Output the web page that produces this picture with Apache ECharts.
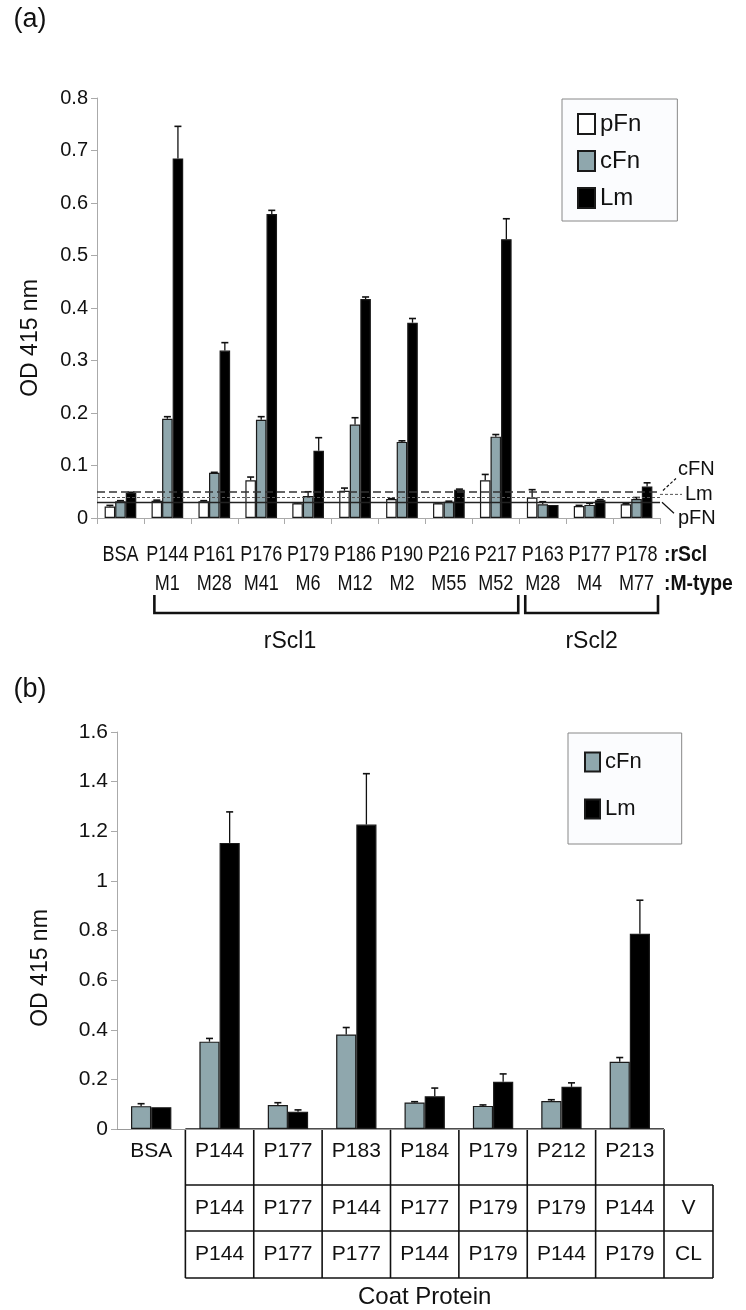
<!DOCTYPE html>
<html><head><meta charset="utf-8">
<script src="https://cdn.jsdelivr.net/npm/echarts@6/dist/echarts.min.js"></script>
<style>html,body{margin:0;padding:0;background:#fff}#c{width:746px;height:1310px}</style>
</head><body><div id="c"></div>
<script>
// ---------- Panel (a) data ----------
const categoriesA = ['BSA','P144','P161','P176','P179','P186','P190','P216','P217','P163','P177','P178'];
const mTypesA     = ['', 'M1','M28','M41','M6','M12','M2','M55','M52','M28','M4','M77'];
const pFnA    = [0.022,0.033,0.032,0.072,0.028,0.052,0.036,0.028,0.072,0.039,0.023,0.026];
const pFnAErr = [0.024,0.034,0.033,0.078,0.029,0.057,0.037,0.029,0.083,0.054,0.024,0.027];
const cFnA    = [0.032,0.189,0.086,0.187,0.042,0.178,0.145,0.031,0.155,0.026,0.025,0.036];
const cFnAErr = [0.033,0.193,0.087,0.193,0.050,0.191,0.147,0.032,0.159,0.031,0.028,0.039];
const LmA     = [0.048,0.685,0.319,0.579,0.128,0.417,0.372,0.054,0.531,0.025,0.034,0.060];
const LmAErr  = [0.049,0.746,0.334,0.586,0.153,0.421,0.380,0.055,0.570,0.025,0.035,0.067];
const thresholdNames  = ['cFN','Lm','pFN'];
const thresholdValues = [0.0525,0.045,0.032];
const groupNames = ['rScl1','rScl2'];
const groupFirst = [1, 9];
const groupLast  = [8, 11];
const yTicksA = {min:0, max:0.8, interval:0.1};

// ---------- Panel (b) data ----------
const categoriesB = ['BSA','P144','P177','P183','P184','P179','P212','P213'];
const vRowB  = ['', 'P144','P177','P144','P177','P179','P179','P144'];
const clRowB = ['', 'P144','P177','P177','P144','P179','P144','P179'];
const cFnB    = [0.092,0.352,0.097,0.381,0.107,0.093,0.113,0.271];
const cFnBErr = [0.102,0.365,0.106,0.409,0.110,0.097,0.118,0.288];
const LmB     = [0.088,1.153,0.070,1.227,0.132,0.190,0.170,0.787];
const LmBErr  = [0.089,1.278,0.077,1.432,0.165,0.222,0.186,0.922];
const yTicksB = {min:0, max:1.6, interval:0.2};

const REG = "'Liberation Sans',Arial,sans-serif";
const NARROW_SCALE = 0.82;
const C_P = '#ffffff', C_C = '#8fa7ad', C_L = '#000000';
const FRAC_A = 0.225, FRAC_B = 0.295;

function errSeries(xIdx, vals, tops, slot, n, frac) {
  return {
    type:'custom', xAxisIndex:xIdx, yAxisIndex:xIdx, silent:true, z:6,
    data: vals.map((v,i)=>[i, v, tops[i]]),
    renderItem(params, api){
      const i = api.value(0);
      const base = api.coord([i, api.value(1)]);
      const top = api.coord([i, api.value(2)]);
      const band = api.size([1,0])[0];
      const bw = band*frac;
      const x = base[0] + (slot-(n-1)/2)*bw;
      const cap = 3.5;
      if (Math.abs(top[1]-base[1]) < 0.5) return null;
      return {type:'group', children:[
        {type:'line', shape:{x1:x,y1:base[1],x2:x,y2:top[1]}, style:{stroke:'#111',lineWidth:1.3}},
        {type:'line', shape:{x1:x-cap,y1:top[1],x2:x+cap,y2:top[1]}, style:{stroke:'#111',lineWidth:1.6}}
      ]};
    }
  };
}
function barSeries(name, xIdx, data, color, frac, extra) {
  return Object.assign({
    type:'bar', name, xAxisIndex:xIdx, yAxisIndex:xIdx, data,
    barWidth:(frac*100)+'%', barGap:'0%',
    itemStyle:{color, borderColor:'#1a1a1a', borderWidth:1.2}
  }, extra||{});
}

const chart = echarts.init(document.getElementById('c'), null, {renderer:'canvas'});
const option = {
  animation:false,
  backgroundColor:'#fff',
  grid:[{left:97, top:98, width:563, height:420},{left:117, top:732, width:547, height:397}],
  xAxis:[
    {type:'category', gridIndex:0, data:categoriesA,
     axisLine:{lineStyle:{color:'#aaa',width:1}},
     axisTick:{show:true,length:6,lineStyle:{color:'#aaa'}},
     axisLabel:{show:false}},
    {type:'category', gridIndex:1, data:categoriesB,
     axisLine:{lineStyle:{color:'#999',width:1}},
     axisTick:{show:false},
     axisLabel:{interval:0, margin:12, fontFamily:REG, fontSize:21, color:'#111'}}
  ],
  yAxis:[
    {type:'value', gridIndex:0, min:yTicksA.min, max:yTicksA.max, interval:yTicksA.interval,
     axisLine:{show:true,lineStyle:{color:'#aaa'}}, axisTick:{show:true,length:6,lineStyle:{color:'#aaa'}},
     splitLine:{show:false}, axisLabel:{margin:9, fontFamily:REG, fontSize:20, color:'#111'}},
    {type:'value', gridIndex:1, min:yTicksB.min, max:yTicksB.max, interval:yTicksB.interval,
     axisLine:{show:true,lineStyle:{color:'#aaa'}}, axisTick:{show:true,length:6,lineStyle:{color:'#aaa'}},
     splitLine:{show:false}, axisLabel:{margin:9, fontFamily:REG, fontSize:21, color:'#111'}}
  ],
  legend:[
    {data:['pFn','cFn','Lm'], orient:'vertical', left:562, top:99, padding:[13,36,11,15], itemGap:13,
     itemWidth:17, itemHeight:20, icon:'rect', backgroundColor:'#fbfcfe', borderColor:'#888', borderWidth:1,
     textStyle:{fontFamily:REG, fontSize:24, color:'#111', lineHeight:20}, selectedMode:false},
    {data:['cFn','Lm'], orient:'vertical', left:568, top:733, padding:[18,40,24,16], itemGap:25,
     itemWidth:15, itemHeight:19, icon:'rect', backgroundColor:'#fbfcfe', borderColor:'#888', borderWidth:1,
     textStyle:{fontFamily:REG, fontSize:22, color:'#111', lineHeight:19}, selectedMode:false}
  ],
  series:[
    barSeries('pFn',0,pFnA,C_P,FRAC_A,{markLine:{symbol:'none', silent:true, label:{show:false}, z:7,
      data:[
        {yAxis:thresholdValues[0], lineStyle:{type:[8,4], color:'#333', width:1.6}},
        {yAxis:thresholdValues[1], lineStyle:{type:[3,2], color:'#555', width:1}},
        {yAxis:thresholdValues[2], lineStyle:{type:'solid', color:'#222', width:1.4}}
      ]}}),
    barSeries('cFn',0,cFnA,C_C,FRAC_A),
    barSeries('Lm',0,LmA,C_L,FRAC_A),
    errSeries(0,pFnA,pFnAErr,0,3,FRAC_A),
    errSeries(0,cFnA,cFnAErr,1,3,FRAC_A),
    errSeries(0,LmA,LmAErr,2,3,FRAC_A),
    barSeries('cFn',1,cFnB,C_C,FRAC_B),
    barSeries('Lm',1,LmB,C_L,FRAC_B),
    errSeries(1,cFnB,cFnBErr,0,2,FRAC_B),
    errSeries(1,LmB,LmBErr,1,2,FRAC_B)
  ]
};
chart.setOption(option);

// ---------- annotations positioned from the axes ----------
function px(idx, cat, val){ return chart.convertToPixel({xAxisIndex:idx, yAxisIndex:idx}, [cat, val]); }
const g = [];
const T = (x,y,text,o,sx)=>g.push({type:'text', x, y, scaleX:sx||1, style:Object.assign({text, fill:'#111', fontFamily:REG, fontSize:20, align:'center', verticalAlign:'middle'}, o||{})});
const L = (pts, o)=>g.push({type:'polyline', shape:{points:pts}, style:Object.assign({stroke:'#111', lineWidth:1.5, fill:null}, o||{})});

// Panel a
const a0 = px(0,0,0), a1 = px(0,1,0);
const bandA = a1[0]-a0[0];
const yA0 = a0[1];
const xEndA = px(0, categoriesA.length-1, 0)[0] + bandA/2;
T(30, 20, '(a)', {fontSize:27});
g.push({type:'text', x:31, y:338, rotation:Math.PI/2, style:{text:'OD 415 nm', fill:'#111', fontFamily:REG, fontSize:23, align:'center', verticalAlign:'middle'}});
categoriesA.forEach((c,i)=>{
  const cx = px(0,i,0)[0];
  T(cx, yA0+37, c, {fontSize:22}, NARROW_SCALE);
  if (mTypesA[i]) T(cx, yA0+66, mTypesA[i], {fontSize:22}, NARROW_SCALE);
});
T(xEndA+4, yA0+37, ':rScl', {fontWeight:'bold', align:'left', fontSize:22}, 0.88);
T(xEndA+4, yA0+66, ':M-type', {fontWeight:'bold', align:'left', fontSize:22}, 0.88);
// brackets
{
  const c1 = px(0,groupFirst[0],0)[0], e1 = px(0,groupLast[0],0)[0] + bandA/2 - 1;
  const c2 = px(0,groupFirst[1],0)[0] - bandA/2 + 6, e2 = px(0,groupLast[1],0)[0] + bandA/2 - 2;
  const s1 = c1 - 13;
  const yt = yA0+77, yb = yA0+95;
  L([[s1,yt],[s1,yb],[e1,yb],[e1,yt]], {lineWidth:2.6});
  L([[c2,yt],[c2,yb],[e2,yb],[e2,yt]], {lineWidth:2.6});
  T(290, yA0+124, groupNames[0], {fontSize:23});
  T((c2+e2)/2, yA0+124, groupNames[1], {fontSize:23});
}
// threshold labels
{
  const yc = px(0,0,thresholdValues[0])[1], yl = px(0,0,thresholdValues[1])[1], yp = px(0,0,thresholdValues[2])[1];
  L([[xEndA+3, yc],[xEndA+16, yc-12]], {lineWidth:1.2, lineDash:[3,2]});
  L([[xEndA, yl],[xEndA+22, yl]], {lineWidth:1, lineDash:[3,2], stroke:'#555'});
  L([[xEndA+2, yp+1],[xEndA+14, yp+12]], {lineWidth:1.2});
  T(xEndA+18, yc-21, thresholdNames[0], {align:'left'});
  T(xEndA+25, yl, thresholdNames[1], {align:'left'});
  T(xEndA+18, yp+17, thresholdNames[2], {align:'left'});
}

// Panel b
const b0 = px(1,0,0), b1 = px(1,1,0);
const bandB = b1[0]-b0[0];
const yB0 = b0[1];
T(30, 690, '(b)', {fontSize:27});
g.push({type:'text', x:41, y:968, rotation:Math.PI/2, style:{text:'OD 415 nm', fill:'#111', fontFamily:REG, fontSize:23, align:'center', verticalAlign:'middle'}});
{
  const n = categoriesB.length;
  const xs = []; for (let i=1;i<=n;i++) xs.push(px(1,i,0)[0]-bandB/2);
  const xl = xs[0], xr = xs[xs.length-1], xrr = xr + 49;
  const r1 = yB0+56, r2 = yB0+102, r3 = yB0+149;
  L([[xl,yB0],[xr,yB0]], {lineWidth:1.6});
  xs.forEach(x=>L([[x,yB0],[x,r3]], {lineWidth:1.6}));
  L([[xrr,r1],[xrr,r3]], {lineWidth:1.6});
  [r1,r2,r3].forEach(y=>L([[xl,y],[xrr,y]], {lineWidth:1.6}));
  for (let i=1;i<n;i++){
    const cx = px(1,i,0)[0];
    T(cx, (r1+r2)/2, vRowB[i], {fontSize:21});
    T(cx, (r2+r3)/2, clRowB[i], {fontSize:21});
  }
  T((xr+xrr)/2, (r1+r2)/2, 'V', {fontSize:21});
  T((xr+xrr)/2, (r2+r3)/2, 'CL', {fontSize:21});
  T((xl+xr)/2, r3+19, 'Coat Protein', {fontSize:24});
}
chart.setOption({graphic:g});
</script></body></html>
